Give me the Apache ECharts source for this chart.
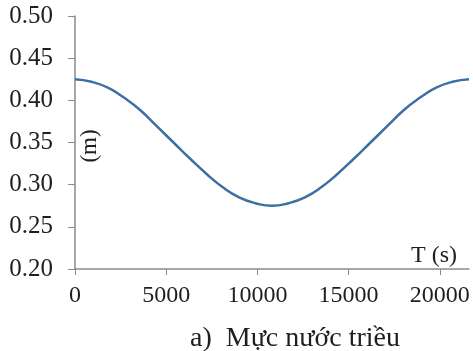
<!DOCTYPE html>
<html>
<head>
<meta charset="utf-8">
<script src="https://cdn.jsdelivr.net/npm/echarts@6/dist/echarts.min.js"></script>
<style>
  html, body { margin: 0; padding: 0; background: #fff; }
  #chart { width: 473px; height: 351px; }
</style>
</head>
<body>
<div id="chart"></div>
<script>
// thời gian (s) và mực nước (m)
var times = [0, 900, 1800, 2700, 3600, 4500, 5400, 6300, 7200, 8100, 9000, 9900, 10800,
  11700, 12600, 13500, 14400, 15300, 16200, 17100, 18000, 18900, 19800, 20700, 21600];
var levels = [0.425, 0.422, 0.415, 0.403, 0.388, 0.369, 0.350, 0.331, 0.313, 0.297, 0.285, 0.278, 0.275,
  0.278, 0.285, 0.297, 0.313, 0.331, 0.350, 0.369, 0.388, 0.403, 0.415, 0.422, 0.425];
var xTicks = [0, 5000, 10000, 15000, 20000];

var font = 'Liberation Serif';
var chart = echarts.init(document.getElementById('chart'));

chart.setOption({
  animation: false,
  grid: { left: 75, right: 4, top: 16, bottom: 82 },
  xAxis: {
    type: 'value',
    min: 0,
    max: 21600,
    interval: 5000,
    splitLine: { show: false },
    axisLine: { lineStyle: { color: '#8a8a8a', width: 1.5 } },
    axisTick: { show: true, length: 6, customValues: xTicks, lineStyle: { color: '#8a8a8a' } },
    axisLabel: {
      customValues: xTicks,
      margin: 15,
      color: '#1e1e1e',
      fontFamily: font,
      fontSize: 24,
      formatter: function (v) { return String(v); }
    }
  },
  yAxis: {
    type: 'value',
    min: 0.2,
    max: 0.5,
    interval: 0.05,
    splitLine: { show: false },
    axisLine: { show: true, lineStyle: { color: '#8a8a8a', width: 1.5 } },
    axisTick: { show: true, length: 7, lineStyle: { color: '#8a8a8a' } },
    axisLabel: {
      margin: 22,
      color: '#1e1e1e',
      fontFamily: font,
      fontSize: 25,
      formatter: function (v) { return v.toFixed(2); }
    }
  },
  series: [{
    type: 'line',
    data: times.map(function (t, i) { return [t, levels[i]]; }),
    smooth: true,
    showSymbol: false,
    lineStyle: { color: '#3d6fa5', width: 2.5 }
  }],
  graphic: [
    {
      type: 'text', x: 90, y: 146, rotation: Math.PI / 2,
      style: { text: '(m)', fill: '#1e1e1e', font: '23px "Liberation Serif"', align: 'center', verticalAlign: 'middle' }
    },
    {
      type: 'text', x: 434, y: 256,
      style: { text: 'T (s)', fill: '#1e1e1e', font: '24px "Liberation Serif"', align: 'center', verticalAlign: 'middle' }
    },
    {
      type: 'text', x: 295, y: 339,
      style: { text: 'a)  Mực nước triều', fill: '#1e1e1e', font: '28px "Liberation Serif"', align: 'center', verticalAlign: 'middle' }
    }
  ]
});
</script>
</body>
</html>
